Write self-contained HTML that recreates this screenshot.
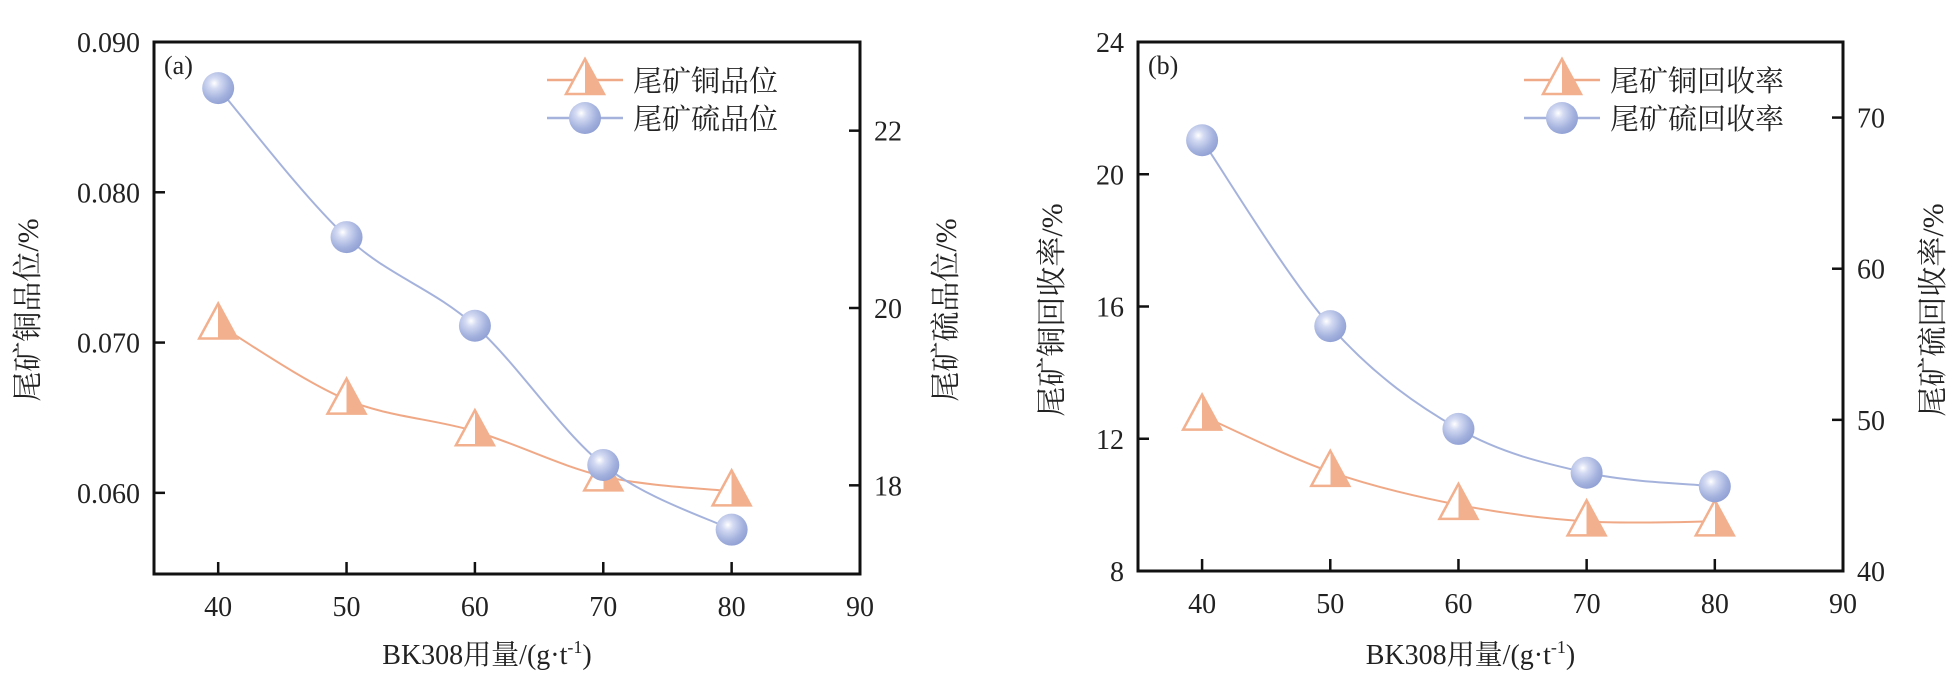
<!DOCTYPE html>
<html><head><meta charset="utf-8"><style>
body{margin:0;background:#fff;width:1960px;height:676px;overflow:hidden}
svg text{font-family:"Liberation Serif","Noto Serif CJK SC",serif;fill:#222}
</style></head><body>
<svg id="s" width="1960" height="676" xmlns="http://www.w3.org/2000/svg">
<defs>
<radialGradient id="ball" cx="0.38" cy="0.35" r="0.7">
<stop offset="0" stop-color="#ffffff"/><stop offset="0.25" stop-color="#d3daf2"/><stop offset="0.7" stop-color="#a3b1dd"/><stop offset="1" stop-color="#8f9fd3"/></radialGradient>
<linearGradient id="tri" x1="0" x2="1" y1="0" y2="0">
<stop offset="0.5" stop-color="#ffffff"/><stop offset="0.5" stop-color="#f2b08e"/></linearGradient>
</defs>
</svg>
<script>
const xCats=[40,50,60,70,80];
const xTicks=[40,50,60,70,80,90];
const cuGrade=[0.0712,0.0662,0.0641,0.0611,0.0601];
const sGrade=[22.48,20.8,19.8,18.23,17.5];
const cuRec=[12.7,11.0,10.0,9.5,9.5];
const sRec=[68.5,56.2,49.4,46.5,45.6];
const aLeftTicks=["0.060","0.070","0.080","0.090"];
const aRightTicks=[18,20,22];
const bLeftTicks=[8,12,16,20,24];
const bRightTicks=[40,50,60,70];

const svg=document.getElementById('s');
const NS='http://www.w3.org/2000/svg';
function mk(t,a,p){const e=document.createElementNS(NS,t);for(const k in a)e.setAttribute(k,a[k]);(p||svg).appendChild(e);return e;}
function txt(s,a,p){const e=mk('text',a,p);e.textContent=s;return e;}
function spline(pts){let d='M'+pts[0][0]+','+pts[0][1];for(let i=0;i<pts.length-1;i++){const p0=pts[Math.max(i-1,0)],p1=pts[i],p2=pts[i+1],p3=pts[Math.min(i+2,pts.length-1)];const c1=[p1[0]+(p2[0]-p0[0])/6,p1[1]+(p2[1]-p0[1])/6],c2=[p2[0]-(p3[0]-p1[0])/6,p2[1]-(p3[1]-p1[1])/6];d+=' C'+c1+' '+c2+' '+p2;}return d;}
function triMarker(x,y,g){const e=mk('polygon',{points:`${x},${y-21} ${x-19},${y+14} ${x+19},${y+14}`,fill:'url(#tri)',stroke:'#f2b08e','stroke-width':2.5},g);}
function ballMarker(x,y,g){const e=mk('circle',{cx:x,cy:y,r:16,fill:'url(#ball)'},g);}

function panel(o){
  const g=mk('g',{});
  const {L,R,T,B}=o;
  const X=v=>L+(v-35)/(90-35)*(R-L);
  const YL=v=>B-(v-o.lmin)/(o.lmax-o.lmin)*(B-T);
  const YR=v=>B-(v-o.rmin)/(o.rmax-o.rmin)*(B-T);
  const frame=mk('rect',{x:L,y:T,width:R-L,height:B-T,fill:'none',stroke:'#111','stroke-width':3},g);
  
  xTicks.forEach(v=>{const x=X(v);if(v<90)mk('line',{x1:x,x2:x,y1:B,y2:B-12,stroke:'#111','stroke-width':2.5},g);
    const t=txt(v,{x:x,y:B+42,'font-size':28,'text-anchor':'middle'},g);});
  o.lt.forEach(v=>{const y=YL(+v);if(Math.abs(y-T)>2&&Math.abs(y-B)>2)mk('line',{x1:L,x2:L+11,y1:y,y2:y,stroke:'#111','stroke-width':2.5},g);
    const t=txt(v,{x:L-14,y:y+10,'font-size':28,'text-anchor':'end'},g);});
  o.rt.forEach(v=>{const y=YR(v);if(Math.abs(y-B)>2)mk('line',{x1:R,x2:R-11,y1:y,y2:y,stroke:'#111','stroke-width':2.5},g);
    const t=txt(v,{x:R+14,y:y+10,'font-size':28,'text-anchor':'start'},g);});
  const pc=xCats.map((v,i)=>[X(v),YL(o.cu[i])]);
  const ps=xCats.map((v,i)=>[X(v),YR(o.s[i])]);
  const l1=mk('path',{d:spline(pc),fill:'none',stroke:'#f0a987','stroke-width':2},g);
  const l2=mk('path',{d:spline(ps),fill:'none',stroke:'#a5b3dc','stroke-width':2},g);
  pc.forEach(p=>triMarker(p[0],p[1],g));
  ps.forEach(p=>ballMarker(p[0],p[1],g));
  const lab=txt(o.tag,{x:L+10,y:T+32,'font-size':26},g);
  const lg=mk('g',{},g);
  mk('line',{x1:o.lx,x2:o.lx+76,y1:80,y2:80,stroke:'#f0a987','stroke-width':2.5},lg);
  triMarker(o.lx+38,80,lg);
  mk('line',{x1:o.lx,x2:o.lx+76,y1:118,y2:118,stroke:'#a5b3dc','stroke-width':2.5},lg);
  ballMarker(o.lx+38,118,lg);
  const e1=txt(o.leg1,{x:o.lx+86,y:91,'font-size':29},lg);
  const e2=txt(o.leg2,{x:o.lx+86,y:129,'font-size':29},lg);
  const xt=txt('BK308用量/(g·t',{x:(L+R)/2-20,y:664,'font-size':28,'text-anchor':'middle'},g);
  const sup=mk('tspan',{dy:-11,'font-size':18},xt);sup.textContent='-1';
  const cl=mk('tspan',{dy:11},xt);cl.textContent=')';
  
  const yl=txt(o.ylL,{x:0,y:0,'font-size':30,'text-anchor':'middle',transform:`translate(${o.ylx+10},310) rotate(-90)`},g);
  const yr=txt(o.ylR,{x:0,y:0,'font-size':30,'text-anchor':'middle',transform:`translate(${o.yrx+10},310) rotate(-90)`},g);
}
panel({name:'panel-a',tag:'(a)',L:154,R:860,T:42,B:574,lmin:0.0546,lmax:0.090,rmin:17,rmax:23,lt:aLeftTicks,rt:aRightTicks,cu:cuGrade,s:sGrade,lx:547,leg1:'尾矿铜品位',leg2:'尾矿硫品位',ylL:'尾矿铜品位/%',ylR:'尾矿硫品位/%',ylx:28,yrx:946});
panel({name:'panel-b',tag:'(b)',L:1138,R:1843,T:42,B:571,lmin:8,lmax:24,rmin:40,rmax:75,lt:bLeftTicks,rt:bRightTicks,cu:cuRec,s:sRec,lx:1524,leg1:'尾矿铜回收率',leg2:'尾矿硫回收率',ylL:'尾矿铜回收率/%',ylR:'尾矿硫回收率/%',ylx:1052,yrx:1933});
</script>
</body></html>
